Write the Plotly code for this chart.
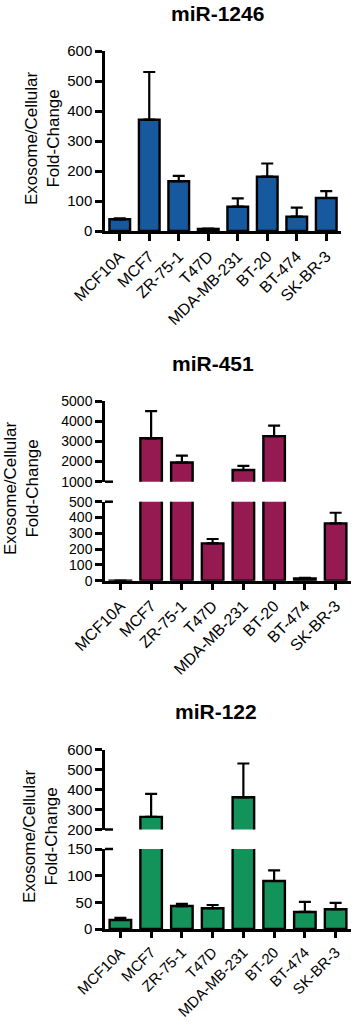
import numpy as np
import plotly.graph_objects as go

W, H = 358, 1026

cells = ["MCF10A", "MCF7", "ZR-75-1", "T47D", "MDA-MB-231", "BT-20", "BT-474", "SK-BR-3"]

# miR-1246
m1246_val = [39, 371, 166, 7, 81, 181, 48, 110]
m1246_top = [42, 530, 184, 8, 109, 225, 78, 133]
# miR-451
m451_val = [0.5, 3150, 1950, 236, 1580, 3260, 15, 363]
m451_top = [0.5, 4500, 2290, 264, 1780, 3780, 18, 430]
# miR-122
m122_val = [17, 263, 43, 39, 361, 90, 32, 37]
m122_top = [21, 378, 47, 45, 530, 110, 51, 49]

BLUE = "#17599e"
MAROON = "#961a52"
GREEN = "#13925a"

FONT = "Liberation Sans, Arial, sans-serif"


def py(p):
    return 1 - p / H


def px(p):
    return p / W


fig = go.Figure()

AX = dict(showline=True, linecolor="black", linewidth=2.5, ticks="outside",
          ticklen=7, tickwidth=2.5, tickcolor="black", showgrid=False,
          zeroline=False, automargin=False,
          tickfont=dict(family=FONT, size=15, color="black"))
XAX = {**AX, "tickfont": dict(family=FONT, size=16, color="black"),
       "tickangle": -45, "range": [-0.5, 7.5]}
XAX3 = {**XAX, "tickfont": dict(family=FONT, size=15, color="black"), "ticklen": 6}


def add_bars(xa, ya, vals, tops, color, lo=None, hi=None):
    vals = np.array(vals, float)
    tops = np.array(tops, float)
    err = tops - vals
    mask = np.ones(len(vals), bool)
    if lo is not None:
        mask &= tops >= lo
    if hi is not None:
        mask &= tops <= hi * 1.2
    e = [float(v) if m else None for v, m in zip(err, mask)]
    fig.add_trace(go.Bar(
        x=cells, y=vals, xaxis=xa, yaxis=ya,
        marker=dict(color=color, line=dict(color="black", width=2.4)),
        error_y=dict(type="data", symmetric=False, array=e,
                     arrayminus=[0] * len(vals), color="black",
                     thickness=2.2, width=6),
        showlegend=False, hoverinfo="skip"))


# Panel 1
x1 = [px(105), px(341)]
fig.update_layout(
    xaxis=dict(domain=x1, anchor="y", **XAX),
    yaxis=dict(domain=[py(231), py(51)], anchor="x", **AX, range=[0, 600],
               tickvals=[0, 100, 200, 300, 400, 500, 600]),
)
add_bars("x", "y", m1246_val, m1246_top, BLUE)

# Panel 2 (broken axis)
x2 = [px(105), px(351)]
AX2 = dict(AX)
AX2["tickfont"] = dict(family=FONT, size=14, color="black")
fig.update_layout(
    xaxis2=dict(domain=x2, anchor="y2", **XAX),
    yaxis2=dict(domain=[py(580.7), py(501.7)], anchor="x2", **AX2, range=[0, 500],
                tickvals=[0, 100, 200, 300, 400, 500]),
    xaxis4=dict(domain=x2, anchor="y3", range=[-0.5, 7.5], visible=False, automargin=False),
    yaxis3=dict(domain=[py(481.7), py(401)], anchor="x4", **AX2, range=[1000, 5000],
                tickvals=[1000, 2000, 3000, 4000, 5000]),
)
v = np.array(m451_val); t = np.array(m451_top)
add_bars("x2", "y2", v, t, MAROON, lo=0, hi=500)
add_bars("x4", "y3", v, t, MAROON, lo=1000)

# Panel 3 (broken axis)
fig.update_layout(
    xaxis3=dict(domain=x2, anchor="y4", **XAX3),
    yaxis4=dict(domain=[py(929), py(849)], anchor="x3", **AX, range=[0, 150],
                tickvals=[0, 50, 100, 150]),
    xaxis5=dict(domain=x2, anchor="y5", range=[-0.5, 7.5], visible=False, automargin=False),
    yaxis5=dict(domain=[py(829.5), py(749.5)], anchor="x5", **AX, range=[200, 600],
                tickvals=[200, 300, 400, 500, 600]),
)
v = np.array(m122_val); t = np.array(m122_top)
add_bars("x3", "y4", v, t, GREEN, lo=0, hi=150)
add_bars("x5", "y5", v, t, GREEN, lo=200)

# break stubs
for yy in [481.7, 501.7, 829.5, 849]:
    fig.add_shape(type="line", xref="paper", yref="paper",
                  x0=px(105), x1=px(113), y0=py(yy), y1=py(yy),
                  line=dict(color="black", width=2.5))

ann = []
for title, xc, yc in [("miR-1246", 217, 13), ("miR-451", 213, 363), ("miR-122", 216, 711)]:
    ann.append(dict(text="<b>%s</b>" % title, x=px(xc), y=py(yc), xref="paper", yref="paper",
                    showarrow=False, xanchor="center", yanchor="middle",
                    font=dict(family=FONT, size=21, color="black")))
for xc, yc in [(42, 138), (21, 488), (40, 836)]:
    ann.append(dict(text="Exosome/Cellular<br>Fold-Change", textangle=-90,
                    x=px(xc), y=py(yc), xref="paper", yref="paper",
                    showarrow=False, xanchor="center", yanchor="middle",
                    font=dict(family=FONT, size=17, color="black")))

fig.update_layout(
    width=W, height=H, margin=dict(l=0, r=0, t=0, b=0, autoexpand=False),
    paper_bgcolor="white", plot_bgcolor="white",
    bargap=0.3, annotations=ann,
)

fig.write_html("out.html", config={"displayModeBar": False},
               post_script="document.body.style.margin='0';document.body.style.overflow='hidden';")
